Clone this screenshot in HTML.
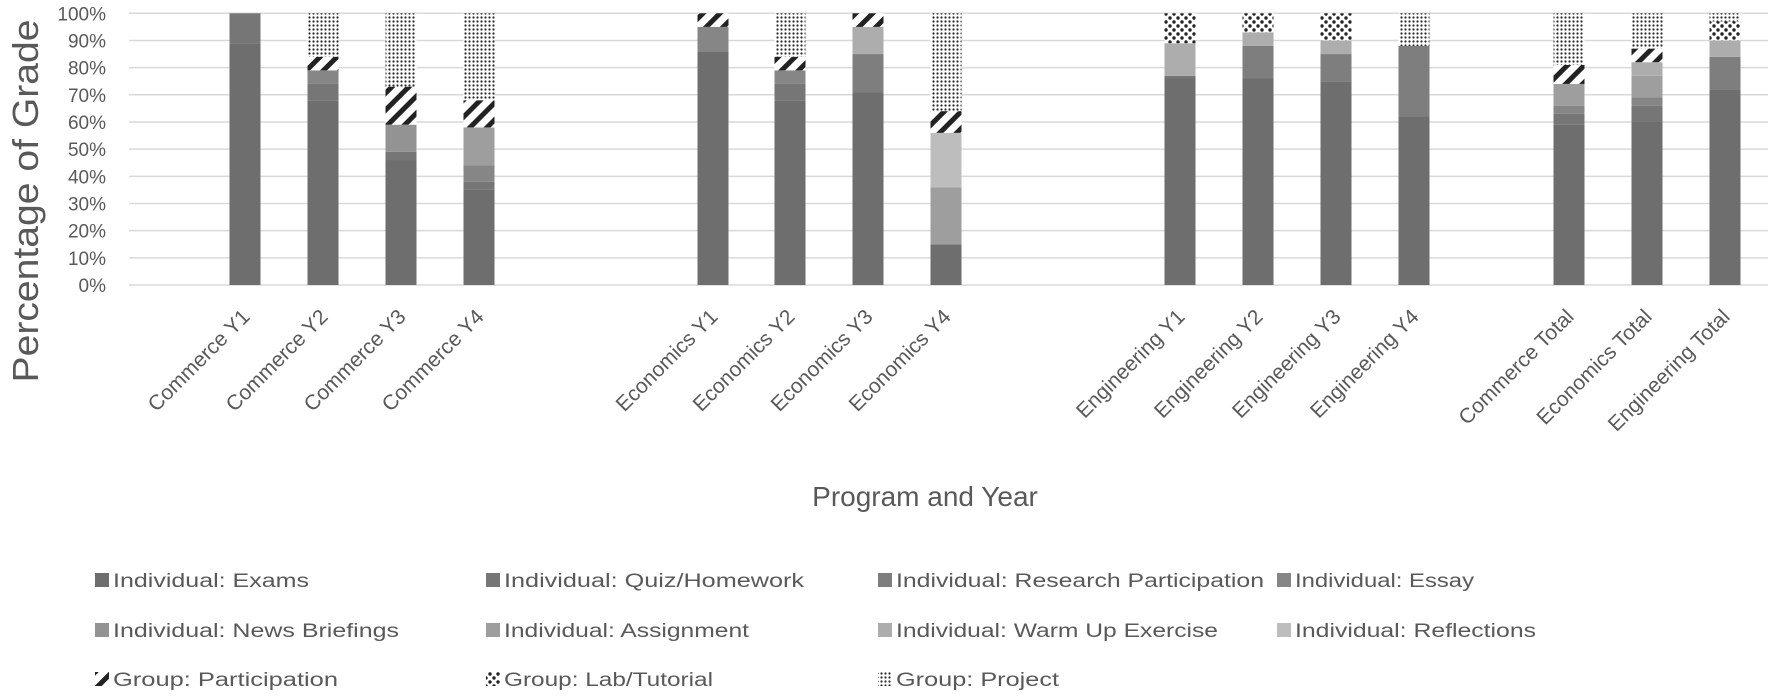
<!DOCTYPE html>
<html><head><meta charset="utf-8"><style>
html,body{margin:0;padding:0;background:#fff}
svg{display:block}
text{font-family:"Liberation Sans",sans-serif;fill:#595959}
</style></head><body>
<svg width="1772" height="699" viewBox="0 0 1772 699" xmlns="http://www.w3.org/2000/svg">
<defs>
<pattern id="part" width="12" height="12" patternUnits="userSpaceOnUse" patternTransform="rotate(-45)">
<rect width="12" height="12" fill="#fff"/><rect width="12" height="5" fill="#222"/></pattern>
<pattern id="lab" width="8" height="8" patternUnits="userSpaceOnUse">
<rect width="8" height="8" fill="#fff"/><circle cx="2" cy="2" r="1.7" fill="#222"/><circle cx="6" cy="6" r="1.7" fill="#222"/></pattern>
<pattern id="proj" width="4" height="4" patternUnits="userSpaceOnUse">
<rect width="4" height="4" fill="#fff"/><circle cx="1.5" cy="1.5" r="1.1" fill="#222"/></pattern>
</defs>
<g id="grid" stroke="#d9d9d9" stroke-width="1.5"></g>
<g id="ticks" font-size="19" text-anchor="end"></g>
<g id="bars"></g>
<g id="xl" font-size="21"></g>
<text transform="translate(38,201) rotate(-90)" font-size="36" text-anchor="middle" textLength="363" lengthAdjust="spacingAndGlyphs">Percentage of Grade</text>
<text x="925" y="506" font-size="28" text-anchor="middle">Program and Year</text>
<g id="leg" font-size="19"></g>
</svg>
<script>
var NS="http://www.w3.org/2000/svg";
function el(p,t,a,txt){var e=document.createElementNS(NS,t);for(var k in a)e.setAttribute(k,a[k]);if(txt)e.textContent=txt;document.getElementById(p).appendChild(e);return e;}
function Y(p){return 285-2.717*p;}
for(var i=0;i<=10;i++){var y=Y(i*10);el('grid','line',{x1:129,x2:1768,y1:y,y2:y});el('ticks','text',{x:106,y:y+7},(i*10)+'%');}
var C=['#6e6e6e','#767676','#7e7e7e','#868686','#939393','#9e9e9e','#adadad','#bdbdbd','url(#part)','url(#lab)','url(#proj)'];
var D=[
[245,'Commerce Y1',[[89,0],[100,1]]],
[323,'Commerce Y2',[[68,0],[74,1],[79,3],[84,8],[100,10]]],
[401,'Commerce Y3',[[46,0],[49,1],[59,4],[73,8],[100,10]]],
[479,'Commerce Y4',[[35,0],[38,1],[44,3],[58,5],[68,8],[100,10]]],
[713,'Economics Y1',[[86,0],[95,3],[100,8]]],
[790,'Economics Y2',[[68,0],[74,1],[79,3],[84,8],[100,10]]],
[868,'Economics Y3',[[71,0],[85,2],[95,6],[100,8]]],
[946,'Economics Y4',[[15,0],[36,5],[56,7],[64,8],[100,10]]],
[1180,'Engineering Y1',[[76,0],[77,1],[89,6],[100,9]]],
[1258,'Engineering Y2',[[76,0],[88,2],[93,6],[100,9]]],
[1336,'Engineering Y3',[[75,0],[85,2],[90,6],[100,9]]],
[1414,'Engineering Y4',[[62,0],[88,2],[100,10]]],
[1569,'Commerce Total',[[59,0],[63,1],[66,3],[74,5],[81,8],[100,10]]],
[1647,'Economics Total',[[60,0],[66,1],[69,3],[77,5],[82,6],[87,8],[100,10]]],
[1725,'Engineering Total',[[72,0],[84,2],[90,6],[97,9],[100,10]]]
];
D.forEach(function(d){var prev=0;d[2].forEach(function(s){el('bars','rect',{x:d[0]-15.5,width:31,y:Y(s[0]),height:Y(prev)-Y(s[0]),fill:C[s[1]]});prev=s[0];});
el('xl','text',{transform:'translate('+(d[0]+6)+',318) rotate(-45)','text-anchor':'end'},d[1]);});
var L=[
[95,580,0,'Individual: Exams',196],[486,580,1,'Individual: Quiz/Homework',300],[878,580,2,'Individual: Research Participation',368],[1277,580,3,'Individual: Essay',179],
[95,630,4,'Individual: News Briefings',286],[486,630,5,'Individual: Assignment',245],[878,630,6,'Individual: Warm Up Exercise',322],[1277,630,7,'Individual: Reflections',241],
[95,679,8,'Group: Participation',225],[486,679,9,'Group: Lab/Tutorial',209],[878,679,10,'Group: Project',163]];
L.forEach(function(l){el('leg','rect',{x:l[0],y:l[1]-7,width:14,height:14,fill:C[l[2]]});
el('leg','text',{x:l[0]+18,y:l[1]+7,textLength:l[4],lengthAdjust:'spacingAndGlyphs'},l[3]);});
</script>
</body></html>
